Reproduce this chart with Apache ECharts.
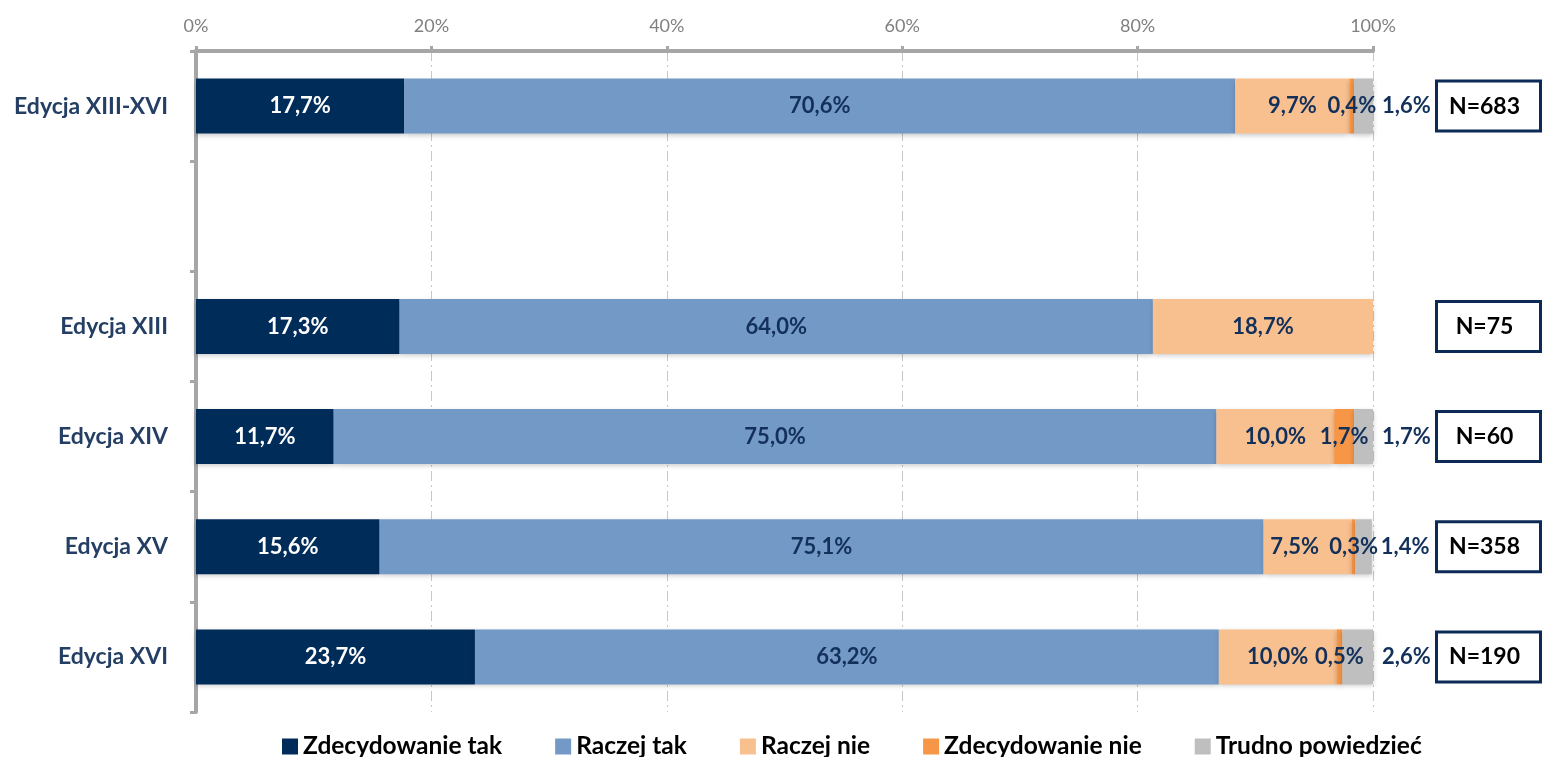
<!DOCTYPE html>
<html>
<head>
<meta charset="utf-8">
<script src="https://cdn.jsdelivr.net/npm/echarts@6/dist/echarts.min.js"></script>
<style>html,body{margin:0;padding:0;background:#fff}#c{width:1542px;height:757px}</style>
</head>
<body>
<div id="c"></div>
<script>
const categories = ['Edycja XIII-XVI', '', 'Edycja XIII', 'Edycja XIV', 'Edycja XV', 'Edycja XVI'];
const seriesNames = ['Zdecydowanie tak', 'Raczej tak', 'Raczej nie', 'Zdecydowanie nie', 'Trudno powiedzieć'];
const zdecydowanieTak = [17.7, null, 17.3, 11.7, 15.6, 23.7];
const raczejTak = [70.6, null, 64.0, 75.0, 75.1, 63.2];
const raczejNie = [9.7, null, 18.7, 10.0, 7.5, 10.0];
const zdecydowanieNie = [0.4, null, 0, 1.7, 0.3, 0.5];
const trudnoPowiedziec = [1.6, null, 0, 1.7, 1.4, 2.6];
const nValues = ['N=683', null, 'N=75', 'N=60', 'N=358', 'N=190'];
const xTicks = [0, 20, 40, 60, 80, 100];

const colors = ['#002C5A', '#7399C6', '#F9C08F', '#F79646', '#BFBFBF'];
const labelColors = ['#FFFFFF', '#12305A', '#12305A', '#12305A', '#12305A'];
const FONT = 'Lato, "Open Sans", sans-serif';
const fmt = v => (v === null || v === undefined || v === 0) ? '' : v.toFixed(1).replace('.', ',') + '%';

const values = [zdecydowanieTak, raczejTak, raczejNie, zdecydowanieNie, trudnoPowiedziec];
const series = values.map((arr, i) => ({
  name: seriesNames[i],
  type: 'bar',
  stack: 'total',
  barWidth: 55,
  xAxisIndex: 0, yAxisIndex: 0,
  data: arr,
  itemStyle: { color: colors[i], shadowBlur: 5, shadowColor: 'rgba(0,0,0,0.22)', shadowOffsetY: 2 },
  label: {
    show: true,
    position: i === 4 ? 'right' : 'inside',
    distance: 9,
    color: labelColors[i],
    fontFamily: FONT, fontWeight: 'bold', fontSize: 22,
    formatter: p => fmt(p.value)
  },
  // narrow "Raczej nie" segments: nudge the label left so it does not touch the next one
  labelLayout: p => (i === 2 && arr[p.dataIndex] !== null && arr[p.dataIndex] < 8) ? { dx: -13, hideOverlap: false } : { hideOverlap: false }
}));

series.push({
  name: 'N',
  type: 'bar',
  xAxisIndex: 1, yAxisIndex: 1,
  barWidth: 53,
  data: nValues.map(v => v === null ? null : 1),
  itemStyle: { color: '#FFFFFF', borderColor: '#0B2A56', borderWidth: 3 },
  label: {
    show: true, position: 'inside', color: '#000000',
    offset: [-4, 0],
    fontFamily: FONT, fontWeight: 'bold', fontSize: 23,
    formatter: p => nValues[p.dataIndex] || ''
  },
  silent: true
});

const chart = echarts.init(document.getElementById('c'), null, { renderer: 'canvas' });
chart.setOption({
  animation: false,
  textStyle: { fontFamily: FONT },
  grid: [
    { left: 196, right: 169, top: 51, bottom: 45, containLabel: false },
    { left: 1435, width: 132, top: 51, bottom: 45, containLabel: false }
  ],
  legend: {
    data: seriesNames,
    bottom: -7,
    left: 277,
    icon: 'rect',
    itemWidth: 16, itemHeight: 16,
    itemGap: 53,
    textStyle: { fontFamily: FONT, fontWeight: 'bold', fontSize: 24.5, color: '#000000' }
  },
  xAxis: [
    {
      type: 'value', position: 'top', min: xTicks[0], max: xTicks[xTicks.length - 1], interval: xTicks[1] - xTicks[0],
      axisLine: { show: true, lineStyle: { color: '#A6A6A6', width: 4 } },
      axisTick: { show: true, length: 5, lineStyle: { color: '#A6A6A6', width: 3 } },
      axisLabel: { color: '#808080', fontSize: 18, margin: 16, fontFamily: FONT, formatter: '{value}%' },
      splitLine: { show: true, lineStyle: { color: '#C8C8C8', width: 1, type: [10, 4, 2, 4] } }
    },
    { type: 'value', gridIndex: 1, min: 0, max: 1, show: false }
  ],
  yAxis: [
    {
      type: 'category', data: categories, inverse: true,
      axisLine: { show: true, lineStyle: { color: '#A6A6A6', width: 4 } },
      axisTick: { show: true, length: 6, lineStyle: { color: '#A6A6A6', width: 3 } },
      axisLabel: { color: '#243F63', fontSize: 23, fontWeight: 'bold', margin: 28, fontFamily: FONT },
      splitLine: { show: false }
    },
    { type: 'category', gridIndex: 1, data: categories, inverse: true, show: false }
  ],
  series: series
});
</script>
</body>
</html>
